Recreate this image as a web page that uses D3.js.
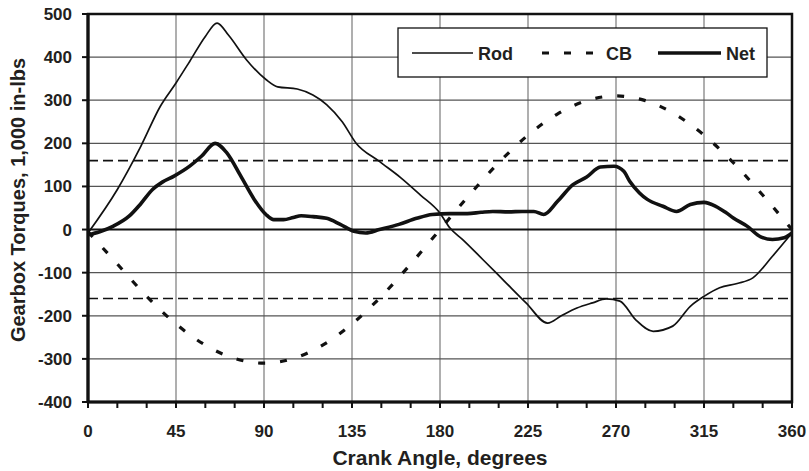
<!DOCTYPE html>
<html>
<head>
<meta charset="utf-8">
<script src="https://cdn.jsdelivr.net/npm/d3@7"></script>
<style>
  html, body { margin: 0; padding: 0; background: #fff; }
  svg { display: block; }
  text { font-family: "Liberation Sans", Arial, sans-serif; font-weight: bold; fill: #231f20; }
</style>
</head>
<body>
<svg id="chart" width="809" height="471"></svg>
<script>
// Gearbox torque components over one crank revolution (1,000 in-lbs)
const rodAngle  = [0, 15, 27, 37, 45, 52, 60, 66, 72, 81, 91, 97, 107, 115, 122, 130, 137, 149, 160, 170, 180, 185, 192, 202, 213, 224, 235, 242, 250, 258, 265, 272, 280, 289, 299, 308, 315, 323, 332, 340, 350, 360];
const rodTorque = [-8, 93, 193, 286, 340, 390, 448, 479, 450, 394, 348, 331, 326, 312, 290, 250, 201, 158, 120, 80, 38, 4, -25, -70, -120, -170, -217, -200, -182, -170, -161, -166, -209, -236, -224, -178, -155, -135, -125, -112, -62, -8];

const cbAngle  = [0, 15, 30, 45, 60, 75, 90, 105, 120, 135, 150, 165, 180, 195, 210, 225, 240, 255, 270, 285, 300, 315, 330, 345, 360];
const cbTorque = [-5, -80, -155, -219, -268, -299, -310, -299, -268, -219, -155, -80, 0, 80, 155, 219, 268, 299, 310, 299, 268, 219, 155, 80, 0];

const netAngle  = [0, 6, 13, 21, 27, 33, 38, 44, 52, 58, 65, 71, 78, 85, 91, 95, 100, 105, 109, 115, 122, 129, 136, 142, 149, 159, 168, 176, 185, 194, 201, 207, 215, 222, 228, 233, 240, 248, 255, 262, 269, 274, 277, 282, 286, 294, 301, 308, 315, 321, 326, 330, 337, 344, 350, 356, 360];
const netTorque = [-12, -5, 8, 31, 60, 93, 110, 124, 147, 170, 200, 178, 125, 70, 35, 23, 23, 28, 32, 30, 26, 12, -4, -8, 0, 12, 26, 35, 37, 37, 40, 42, 41, 42, 42, 35, 65, 104, 122, 145, 147, 135, 112, 85, 70, 54, 42, 58, 63, 54, 40, 27, 8, -17, -23, -19, -8];

const xTicks = [0, 45, 90, 135, 180, 225, 270, 315, 360];
const xMinorTicks = d3.range(0, 361, 15);
const yTicks = [-400, -300, -200, -100, 0, 100, 200, 300, 400, 500];
const limitLevels = [160, -160];
const legendLabels = ["Rod", "CB", "Net"];

const svg = d3.select("#chart");
const plotLeft = 88, plotRight = 792, plotTop = 14, plotBottom = 402;

const x = d3.scaleLinear().domain([0, 360]).range([plotLeft, plotRight]);
const y = d3.scaleLinear().domain([-400, 500]).range([plotBottom, plotTop]);

// grid
const grid = svg.append("g");
grid.selectAll("line.v").data(xTicks.slice(1, -1)).join("line")
  .attr("class", "v")
  .attr("x1", d => x(d)).attr("x2", d => x(d))
  .attr("y1", plotTop).attr("y2", plotBottom)
  .attr("stroke", "#7a7a7a").attr("stroke-width", 1.2);
grid.selectAll("line.h").data(yTicks.filter(d => d !== 0 && d !== -400 && d !== 500)).join("line")
  .attr("class", "h")
  .attr("x1", plotLeft).attr("x2", plotRight)
  .attr("y1", d => y(d)).attr("y2", d => y(d))
  .attr("stroke", "#555").attr("stroke-width", 1.2);

// dashed limit lines
svg.selectAll("line.limit").data(limitLevels).join("line")
  .attr("class", "limit")
  .attr("x1", plotLeft).attr("x2", plotRight)
  .attr("y1", d => y(d)).attr("y2", d => y(d))
  .attr("stroke", "#111").attr("stroke-width", 1.6)
  .attr("stroke-dasharray", "10,5");

// zero line
svg.append("line")
  .attr("x1", plotLeft).attr("x2", plotRight)
  .attr("y1", y(0)).attr("y2", y(0))
  .attr("stroke", "#111").attr("stroke-width", 2);

const lineGen = (xs, ys) => d3.line()
  .x((d, i) => x(xs[i])).y((d, i) => y(ys[i]))
  .curve(d3.curveMonotoneX)(ys);

// series
svg.append("path").attr("d", lineGen(cbAngle, cbTorque))
  .attr("fill", "none").attr("stroke", "#111").attr("stroke-width", 3.2)
  .attr("stroke-dasharray", "7,15");
svg.append("path").attr("d", lineGen(rodAngle, rodTorque))
  .attr("fill", "none").attr("stroke", "#111").attr("stroke-width", 1.7)
  .attr("stroke-linejoin", "round");
svg.append("path").attr("d", lineGen(netAngle, netTorque))
  .attr("fill", "none").attr("stroke", "#111").attr("stroke-width", 3.6)
  .attr("stroke-linejoin", "round");

// frame
svg.append("rect")
  .attr("x", plotLeft).attr("y", plotTop).attr("width", plotRight - plotLeft).attr("height", plotBottom - plotTop)
  .attr("fill", "none").attr("stroke", "#111").attr("stroke-width", 2.5);
svg.append("line").attr("x1", plotLeft).attr("x2", plotLeft).attr("y1", plotTop - 1).attr("y2", plotBottom + 1)
  .attr("stroke", "#111").attr("stroke-width", 3.2);
svg.append("line").attr("x1", plotLeft - 1).attr("x2", plotRight + 1).attr("y1", plotBottom).attr("y2", plotBottom)
  .attr("stroke", "#111").attr("stroke-width", 3.2);

// axes
const xAxis = svg.append("g").attr("transform", `translate(0,${plotBottom})`);
xAxis.selectAll("line").data(xMinorTicks).join("line")
  .attr("x1", d => x(d)).attr("x2", d => x(d))
  .attr("y1", 0).attr("y2", 6)
  .attr("stroke", "#111").attr("stroke-width", 2);
xAxis.selectAll("text").data(xTicks).join("text")
  .attr("x", d => x(d)).attr("y", 35)
  .attr("text-anchor", "middle").attr("font-size", 17)
  .text(d => d);

const yAxis = svg.append("g").attr("transform", `translate(${plotLeft},0)`);
yAxis.selectAll("line").data(yTicks).join("line")
  .attr("x1", -6).attr("x2", 0)
  .attr("y1", d => y(d)).attr("y2", d => y(d))
  .attr("stroke", "#111").attr("stroke-width", 2);
yAxis.selectAll("text").data(yTicks).join("text")
  .attr("x", -16).attr("y", d => y(d)).attr("dy", "0.35em")
  .attr("text-anchor", "end").attr("font-size", 17)
  .text(d => d);

// titles
svg.append("text").attr("x", x(180)).attr("y", 465)
  .attr("text-anchor", "middle").attr("font-size", 21)
  .text("Crank Angle, degrees");
svg.append("text")
  .attr("transform", "translate(25,200) rotate(-90)")
  .attr("text-anchor", "middle").attr("font-size", 20)
  .text("Gearbox Torques, 1,000 in-lbs");

// legend
const lg = svg.append("g");
lg.append("rect").attr("x", 398).attr("y", 28).attr("width", 369).attr("height", 49)
  .attr("fill", "#fff").attr("stroke", "#111").attr("stroke-width", 1.3);
const legendStyles = [
  { x1: 412, x2: 473, tx: 478, w: 1.7, dash: null },
  { x1: 542, x2: 596, tx: 606, w: 3.2, dash: "7,15" },
  { x1: 658, x2: 721, tx: 726, w: 3.6, dash: null }
];
legendLabels.forEach((lab, i) => {
  const s = legendStyles[i];
  lg.append("line").attr("x1", s.x1).attr("x2", s.x2).attr("y1", 53).attr("y2", 53)
    .attr("stroke", "#111").attr("stroke-width", s.w)
    .attr("stroke-dasharray", s.dash);
  lg.append("text").attr("x", s.tx).attr("y", 60).attr("font-size", 18).text(lab);
});
</script>
</body>
</html>
